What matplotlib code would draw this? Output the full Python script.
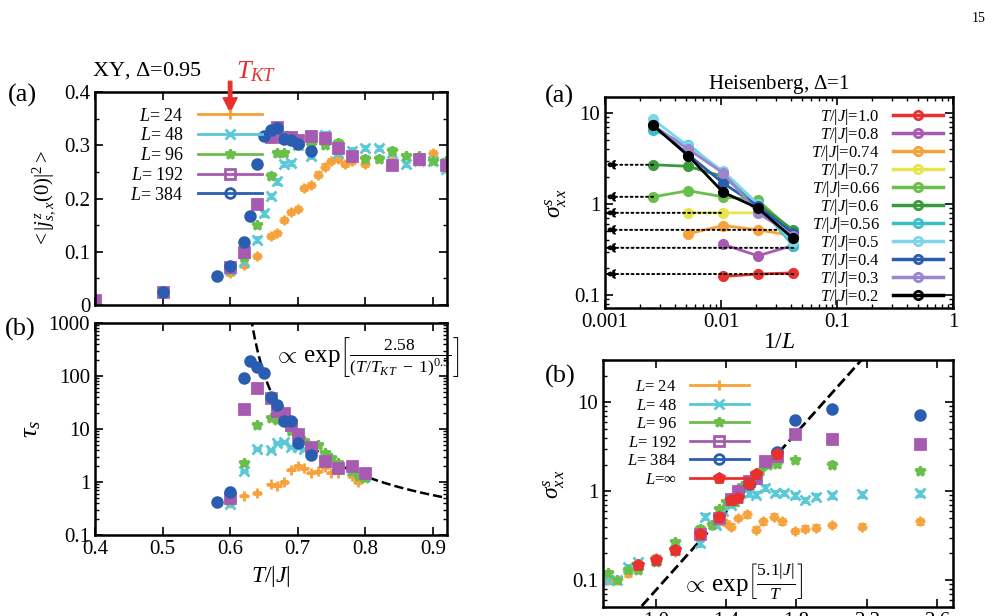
import numpy as np
import matplotlib
matplotlib.use('Agg')
import matplotlib.pyplot as plt
from matplotlib.ticker import MultipleLocator, NullFormatter, FixedLocator
from matplotlib.lines import Line2D

plt.rcParams['font.family'] = ['Liberation Serif', 'DejaVu Serif']
plt.rcParams['mathtext.fontset'] = 'custom'
plt.rcParams['mathtext.rm'] = 'Liberation Serif'
plt.rcParams['mathtext.it'] = 'Liberation Serif:italic'
plt.rcParams['mathtext.bf'] = 'Liberation Serif:bold'
plt.rcParams['font.size'] = 13

C = {'24': '#f7a13a', '48': '#5bc8d6', '96': '#6abf4b', '192': '#a75bb0', '384': '#2a5db0', 'inf': '#e8312f'}
MK = {'24': '+', '48': 'x', '96': '*', '192': 's', '384': 'o', 'inf': 'p'}

# ---- panel XY (a): <|j|^2> vs T
a_T384 = [0.5, 0.58, 0.6, 0.62, 0.63, 0.64, 0.65, 0.66, 0.67, 0.68, 0.69, 0.70, 0.72]
a_y384 = [0.025, 0.055, 0.073, 0.118, 0.168, 0.265, 0.318, 0.328, 0.333, 0.312, 0.31, 0.302, 0.29]
a_T192 = [0.4, 0.5, 0.6, 0.62, 0.64, 0.66, 0.67, 0.68, 0.69, 0.7, 0.72, 0.74, 0.76, 0.78, 0.84, 0.88, 0.92]
a_y192 = [0.01, 0.025, 0.072, 0.10, 0.19, 0.315, 0.335, 0.315, 0.315, 0.31, 0.318, 0.313, 0.295, 0.28, 0.263, 0.275, 0.262]
a_T96 = [0.6, 0.62, 0.64, 0.66, 0.67, 0.68, 0.70, 0.72, 0.74, 0.76, 0.78, 0.80, 0.82, 0.84, 0.86, 0.88, 0.90, 0.92]
a_y96 = [0.065, 0.09, 0.15, 0.243, 0.285, 0.285, 0.30, 0.30, 0.30, 0.305, 0.28, 0.275, 0.275, 0.29, 0.28, 0.28, 0.27, 0.27]
a_T48 = [0.6, 0.62, 0.64, 0.65, 0.66, 0.67, 0.68, 0.69, 0.7, 0.72, 0.74, 0.76, 0.78, 0.8, 0.82, 0.84, 0.86, 0.88, 0.9, 0.92]
a_y48 = [0.065, 0.08, 0.123, 0.172, 0.205, 0.232, 0.265, 0.267, 0.30, 0.28, 0.32, 0.285, 0.29, 0.295, 0.295, 0.285, 0.265, 0.27, 0.27, 0.255]
a_T24 = [0.6, 0.62, 0.64, 0.66, 0.67, 0.68, 0.69, 0.70, 0.71, 0.72, 0.73, 0.74, 0.75, 0.76, 0.77, 0.78, 0.80, 0.84, 0.88, 0.90, 0.92]
a_y24 = [0.06, 0.075, 0.092, 0.13, 0.135, 0.16, 0.175, 0.18, 0.22, 0.225, 0.245, 0.26, 0.27, 0.275, 0.265, 0.27, 0.265, 0.27, 0.27, 0.285, 0.26]

# ---- panel XY (b): tau_s vs T
b_T384 = [0.58, 0.6, 0.62, 0.63, 0.64, 0.65, 0.66, 0.67, 0.68, 0.69, 0.70, 0.72]
b_y384 = [0.42, 0.65, 90, 190, 145, 115, 40, 28, 14, 14, 5.5, 3.2]
b_T192 = [0.6, 0.62, 0.64, 0.66, 0.67, 0.68, 0.69, 0.70, 0.72, 0.74, 0.76, 0.78, 0.80]
b_y192 = [0.5, 24, 60, 38, 22, 20, 12, 8, 4.5, 2.5, 1.8, 2.0, 1.5]
b_T96 = [0.6, 0.62, 0.64, 0.66, 0.67, 0.68, 0.69, 0.70, 0.71, 0.72, 0.73, 0.74, 0.75, 0.76, 0.78, 0.79, 0.80]
b_y96 = [0.45, 2.3, 12, 16, 15, 14, 9, 7, 6, 4.5, 5, 3.5, 2.8, 2.3, 1.6, 1.3, 1.2]
b_T48 = [0.6, 0.62, 0.64, 0.66, 0.67, 0.68, 0.69, 0.70, 0.71, 0.72, 0.74, 0.76, 0.78, 0.80]
b_y48 = [0.38, 1.6, 4.2, 4.0, 5.5, 5.8, 4.6, 4.5, 4.2, 3.5, 3.0, 2.0, 1.7, 1.3]
b_T24 = [0.6, 0.62, 0.64, 0.66, 0.67, 0.68, 0.69, 0.70, 0.71, 0.72, 0.73, 0.74, 0.75, 0.76, 0.78, 0.79]
b_y24 = [0.4, 0.55, 0.62, 0.9, 0.85, 1.0, 1.7, 2.0, 1.8, 1.5, 1.6, 1.9, 1.5, 1.5, 1.3, 1.0]
T_KT = 0.6
fit_amp = 0.0147
fit_b = 2.58

# ---- Heisenberg (a): sigma vs 1/L
invL = [1/384, 1/192, 1/96, 1/48, 1/24]
h_T = ['1.0', '0.8', '0.74', '0.7', '0.66', '0.6', '0.56', '0.5', '0.4', '0.3', '0.2']
h_col = ['#e8312f', '#a75bb0', '#f7a13a', '#e6e64a', '#6abf4b', '#3a9a3a', '#3bbfc6', '#7fd6e6', '#2a5db0', '#9a86cf', '#000000']
h_vals = [
    [np.nan, np.nan, 0.16, 0.17, 0.175],
    [np.nan, np.nan, 0.36, 0.27, 0.35],
    [np.nan, 0.47, 0.58, 0.52, 0.45],
    [np.nan, 0.8, 0.8, 0.8, 0.45],
    [1.2, 1.4, 1.2, 1.1, 0.5],
    [2.7, 2.6, 2.0, 1.0, 0.52],
    [6.5, 4.5, 2.2, 1.0, 0.35],
    [8.5, 4.3, 2.3, 1.0, 0.38],
    [7.3, 3.5, 1.7, 0.95, 0.48],
    [7.3, 4.0, 2.2, 0.8, 0.45],
    [7.3, 3.4, 1.35, 0.9, 0.42],
]
h_inf = [0.17, 0.33, 0.52, 0.8, 1.2, 2.7]
h_inf_start = [0.042, 0.042, 0.03, 0.01, 0.0026, 0.0026]

# ---- Heisenberg (b): sigma vs |J|/T
r_x24 = [0.73, 0.78, 0.84, 0.90, 1.0, 1.11, 1.25, 1.32, 1.36, 1.40, 1.43, 1.47, 1.52, 1.57, 1.61, 1.67, 1.72, 1.79, 1.85, 1.91, 2.0, 2.17, 2.5]
r_y24 = [0.1, 0.1, 0.12, 0.14, 0.18, 0.21, 0.37, 0.42, 0.46, 0.44, 0.40, 0.50, 0.55, 0.37, 0.46, 0.52, 0.46, 0.36, 0.38, 0.39, 0.42, 0.40, 0.46]
r_x48 = [0.73, 0.78, 0.84, 0.90, 1.0, 1.11, 1.25, 1.28, 1.34, 1.38, 1.43, 1.47, 1.53, 1.57, 1.62, 1.68, 1.73, 1.79, 1.85, 1.91, 2.0, 2.17, 2.5]
r_y48 = [0.1, 0.1, 0.14, 0.16, 0.17, 0.22, 0.26, 0.52, 0.42, 0.6, 0.70, 0.85, 0.95, 0.92, 1.1, 0.96, 0.96, 0.9, 0.8, 0.87, 0.9, 0.93, 0.95]
r_x96 = [0.73, 0.78, 0.84, 0.90, 1.0, 1.11, 1.25, 1.32, 1.36, 1.40, 1.45, 1.49, 1.55, 1.59, 1.64, 1.69, 1.79, 2.0, 2.5]
r_y96 = [0.12, 0.1, 0.13, 0.13, 0.16, 0.27, 0.38, 0.42, 0.63, 0.75, 0.75, 1.15, 1.3, 1.7, 2.0, 2.05, 2.25, 2.0, 1.7]
r_x192 = [1.25, 1.36, 1.43, 1.47, 1.53, 1.57, 1.62, 1.69, 1.79, 2.0, 2.5]
r_y192 = [0.33, 0.5, 0.82, 1.0, 1.3, 1.4, 2.2, 2.5, 4.4, 3.9, 3.4]
r_x384 = [1.53, 1.69, 1.79, 2.0, 2.5]
r_y384 = [1.2, 2.8, 6.3, 8.5, 7.2]
r_xinf = [0.90, 1.0, 1.11, 1.25, 1.36, 1.43, 1.47, 1.53, 1.57, 1.69]
r_yinf = [0.15, 0.17, 0.22, 0.33, 0.52, 0.8, 0.85, 1.2, 1.55, 2.6]
r_amp = 4.7e-4
r_b = 5.1

W, H = 1006, 616
fig = plt.figure(figsize=(W/100, H/100), dpi=100)
def ax_at(x0, y0, x1, y1):
    return fig.add_axes([x0/W, 1-y1/H, (x1-x0)/W, (y1-y0)/H])

def style(ax):
    ax.tick_params(direction='in', which='both', top=True, right=True, labelsize=15)
    ax.tick_params(which='major', length=6, width=1.2)
    ax.tick_params(which='minor', length=3, width=1)
    for s in ax.spines.values():
        s.set_linewidth(1.8)

def pts(ax, x, y, key, rel=0.03, lin=False):
    y = np.array(y, float)
    err = y*rel if not lin else np.full_like(y, 0.004)
    ax.errorbar(x, y, yerr=err, fmt=MK[key], color=C[key], mfc=C[key], ms=7, mew=2,
                capsize=3, elinewidth=1.3)

def handle(key):
    mfc = 'none' if key in ('192', '384') else C[key]
    return Line2D([], [], color=C[key], marker=MK[key], mfc=mfc, mew=2, ms=7, lw=2)

def legend_L(ax, keys, loc_xy, fs):
    hs = [handle(k) for k in keys]
    ls = [(r'$L$=$\infty$' if k == 'inf' else r'$L$= ' + k) for k in keys]
    leg = ax.legend(hs, ls, loc='upper left', bbox_to_anchor=loc_xy, frameon=False, markerfirst=False,
                    fontsize=fs, handlelength=3.5, labelspacing=0.15, borderaxespad=0, alignment='right')
    return leg

# XY (a)
ax1 = ax_at(95, 92, 447, 305)
for k, (x, y) in {'24': (a_T24, a_y24), '48': (a_T48, a_y48), '96': (a_T96, a_y96),
                  '192': (a_T192, a_y192), '384': (a_T384, a_y384)}.items():
    pts(ax1, x, y, k, lin=True)
ax1.set_xlim(0.4, 0.921)
ax1.set_ylim(0, 0.4)
ax1.xaxis.set_major_locator(MultipleLocator(0.1))
ax1.xaxis.set_major_formatter(NullFormatter())
ax1.yaxis.set_major_locator(FixedLocator([0, 0.1, 0.2, 0.3, 0.4]))
ax1.yaxis.set_minor_locator(MultipleLocator(0.05))
style(ax1)
ax1.set_yticklabels(['0', '0.1', '0.2', '0.3', '0.4'])
legend_L(ax1, ['24', '48', '96', '192', '384'], (0.08, 0.96), 13)
ax1.set_ylabel(r'$<|j^z_{s,x}(0)|^2>$', fontsize=15)
fig.text(8/W, 1-102/H, '(a)', fontsize=19)
fig.text(92/W, 1-76/H, r'XY, $\Delta$=0.95', fontsize=16)
ax1.annotate('', xy=(0.6, 0.363), xytext=(0.6, 0.42), xycoords='data',
             arrowprops=dict(color='#e8312f', width=2.5, headwidth=10, headlength=10), annotation_clip=False)
ax1.text(0.608, 0.425, r'$T_{KT}$', color='#e8312f', fontsize=19, clip_on=False)

# XY (b)
ax2 = ax_at(95, 323, 447, 535)
for k, (x, y) in {'24': (b_T24, b_y24), '48': (b_T48, b_y48), '96': (b_T96, b_y96),
                  '192': (b_T192, b_y192), '384': (b_T384, b_y384)}.items():
    pts(ax2, x, y, k)
Tf = np.linspace(0.628, 0.921, 300)
ax2.plot(Tf, fit_amp*np.exp(fit_b/np.sqrt(Tf/T_KT-1)), 'k--', lw=1.8)
ax2.set_yscale('log')
ax2.set_xlim(0.4, 0.921)
ax2.set_ylim(0.1, 1000)
style(ax2)
ax2.set_xticks([0.4, 0.5, 0.6, 0.7, 0.8, 0.9])
ax2.set_xticklabels(['0.4', '0.5', '0.6', '0.7', '0.8', '0.9'])
ax2.set_yticks([0.1, 1, 10, 100, 1000])
ax2.set_yticklabels(['0.1', '1', '10', '100', '1000'])
ax2.set_xlabel(r'$T/|J|$', fontsize=17)
ax2.set_ylabel(r'$\tau_s$', fontsize=19)
ax2.text(0.665, 180, r'$\propto\,\exp\!\left[\frac{2.58}{(T/T_{KT}\ -\ 1)^{0.5}}\right]$', fontsize=18)
fig.text(5/W, 1-336/H, '(b)', fontsize=19)

# Heisenberg (a)
ax3 = ax_at(605, 97, 953, 308)
hs3 = []
for T, col, v in zip(h_T, h_col, h_vals):
    v = np.array(v, float)
    ax3.errorbar(invL, v, yerr=v*0.05, fmt='-o', color=col, mfc=col, ms=7, lw=2, capsize=3)
    hs3.append(Line2D([], [], color=col, marker='o', mfc='none', mew=2, ms=6, lw=2.5))
for yv, xs in zip(h_inf, h_inf_start):
    ax3.annotate('', xy=(0.001, yv), xytext=(xs, yv),
                 arrowprops=dict(arrowstyle='-|>', ls=':', lw=1.4, color='k', mutation_scale=14, shrinkA=0, shrinkB=0))
ax3.set_xscale('log'); ax3.set_yscale('log')
ax3.set_xlim(0.001, 1)
ax3.set_ylim(0.072, 15)
style(ax3)
ax3.set_xticks([0.001, 0.01, 0.1, 1]); ax3.set_xticklabels(['0.001', '0.01', '0.1', '1'])
ax3.set_yticks([0.1, 1, 10]); ax3.set_yticklabels(['0.1', '1', '10'])
ax3.legend(hs3, [r'$T/|J|$=' + T for T in h_T], loc='upper right', bbox_to_anchor=(0.99, 0.985), frameon=False,
           markerfirst=False, fontsize=12, handlelength=3, labelspacing=-0.12, borderaxespad=0,
           alignment='right', handleheight=0.5)
ax3.set_xlabel(r'$1/L$', fontsize=17, labelpad=0)
ax3.set_ylabel(r'$\sigma^s_{x\,x}$', fontsize=17)
ax3.set_title(r'Heisenberg, $\Delta$=1', fontsize=15)
fig.text(545/W, 1-103/H, '(a)', fontsize=19)

# Heisenberg (b)
ax4 = ax_at(603, 360, 953, 607)
for k, (x, y) in {'24': (r_x24, r_y24), '48': (r_x48, r_y48), '96': (r_x96, r_y96),
                  '192': (r_x192, r_y192), '384': (r_x384, r_y384), 'inf': (r_xinf, r_yinf)}.items():
    pts(ax4, x, y, k, rel=0.06)
xf = np.linspace(0.7, 2.7, 100)
ax4.plot(xf, r_amp*np.exp(r_b*xf), 'k--', lw=2)
ax4.set_yscale('log')
ax4.set_xlim(0.7, 2.69)
ax4.set_ylim(0.05, 30)
style(ax4)
ax4.set_xticks([1.0, 1.4, 1.8, 2.2, 2.6])
ax4.set_xticklabels(['1.0', '1.4', '1.8', '2.2', '2.6'])
ax4.set_yticks([0.1, 1, 10]); ax4.set_yticklabels(['0.1', '1', '10'])
legend_L(ax4, ['24', '48', '96', '192', '384', 'inf'], (0.05, 0.95), 12)
ax4.text(1.15, 0.075, r'$\propto\,\exp\!\left[\frac{5.1|J|}{T}\right]$', fontsize=18)
ax4.set_ylabel(r'$\sigma^s_{x\,x}$', fontsize=17)
fig.text(545/W, 1-383/H, '(b)', fontsize=19)

fig.text(972/W, 1-22/H, '15', fontsize=10)
fig.savefig('out.png', dpi=100)
